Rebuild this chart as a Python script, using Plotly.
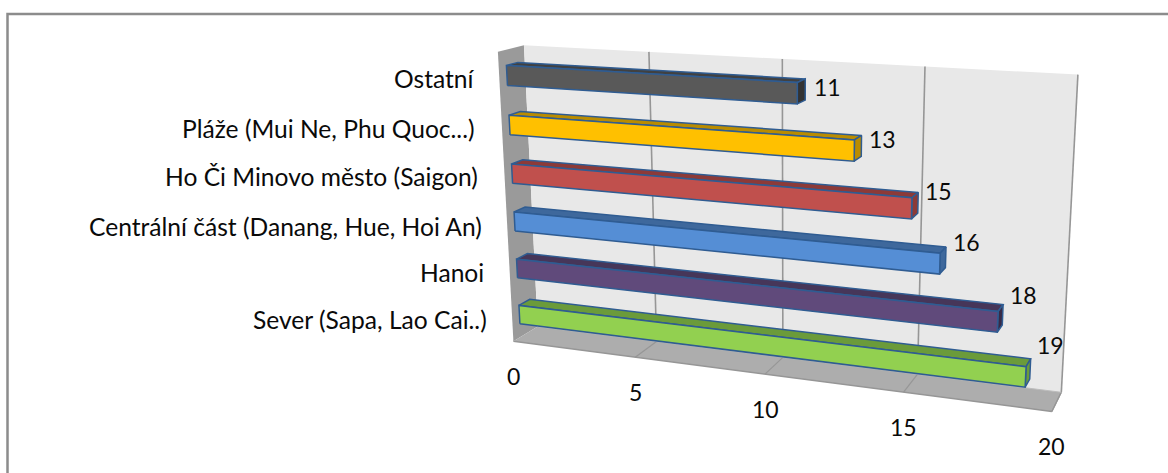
import numpy as np
import plotly.graph_objects as go

categories = ["Sever (Sapa, Lao Cai..)", "Hanoi", "Centrální část (Danang, Hue, Hoi An)",
              "Ho Či Minovo město (Saigon)", "Pláže (Mui Ne, Phu Quoc...)", "Ostatní"]
values = [19, 18, 16, 15, 13, 11]
x_ticks = [0, 5, 10, 15, 20]

front_colors = ["#92D050", "#604A7B", "#558ED5", "#C0504D", "#FFC000", "#595959"]
top_colors = ["#6B9B3A", "#463659", "#3E689C", "#8C3A38", "#BA8C00", "#414141"]
side_colors = ["#6B9B3A", "#372A47", "#3E689C", "#8C3A38", "#BA8C00", "#333333"]
EDGE = "#2F5C92"
FONT = "Lato"
NAME_SIZE = 24.6
NUMBER_SIZE = 23

# Perspective view of the chart box: (value, depth, band) -> canvas position.
VIEW = np.array([
    [20.452457, 40.6706131, -6.9639364, 513.4118863],
    [0.9750744, -4.8291598, -48.7064342, 341.3230918],
    [-0.006152, 0.030512, -0.0087866, 1.0],
])
X_MAX = x_ticks[-1]
BANDS = len(categories)
DEPTH = (0.29, 0.73)
BAR = (0.29, 0.69)


def view(x, y, z):
    h = VIEW @ np.array([x, y, z, 1.0])
    return h[0] / h[2], h[1] / h[2]


fig = go.Figure()


def face(corners, fill, line=None, width=0):
    pts = [view(*c) for c in corners]
    xs = [p[0] for p in pts] + [pts[0][0]]
    ys = [p[1] for p in pts] + [pts[0][1]]
    fig.add_trace(go.Scatter(
        x=xs, y=ys, mode="lines" if line else "none", fill="toself", fillcolor=fill,
        line=dict(color=line or fill, width=width), hoverinfo="skip", showlegend=False,
    ))


def segment(a, b, color, width):
    pa, pb = view(*a), view(*b)
    fig.add_trace(go.Scatter(
        x=[pa[0], pb[0]], y=[pa[1], pb[1]], mode="lines",
        line=dict(color=color, width=width), hoverinfo="skip", showlegend=False,
    ))


# Walls and floor
face([(0, 0, 0), (0, 1, 0), (0, 1, BANDS), (0, 0, BANDS)], "#9A9A9A")
face([(0, 1, 0), (X_MAX, 1, 0), (X_MAX, 1, BANDS), (0, 1, BANDS)], "#E8E8E8")
face([(0, 0, 0), (X_MAX, 0, 0), (X_MAX, 1, 0), (0, 1, 0)], "#ADADAD")

# Grid on the back wall and the floor
for t in x_ticks[1:]:
    segment((t, 1, 0), (t, 1, BANDS), "#969696", 1.6)
    segment((t, 0, 0), (t, 1, 0), "#969696", 1.2)
segment((0, 0, 0), (X_MAX, 0, 0), "#969696", 1.6)
segment((X_MAX, 0, 0), (X_MAX, 1, 0), "#969696", 1.2)
segment((0, 1, 0), (X_MAX, 1, 0), "#BDBDBD", 1)

# Bars, upper bands first
y0, y1 = DEPTH
for i in reversed(range(BANDS)):
    v = values[i]
    z0, z1 = i + BAR[0], i + BAR[1]
    face([(0, y0, z1), (v, y0, z1), (v, y1, z1), (0, y1, z1)], top_colors[i], EDGE, 1.5)
    face([(v, y0, z0), (v, y1, z0), (v, y1, z1), (v, y0, z1)], side_colors[i], EDGE, 1.5)
    face([(0, y0, z0), (v, y0, z0), (v, y0, z1), (0, y0, z1)], front_colors[i], EDGE, 1.5)

annotations = []


def label(text, x, y, anchor, size):
    annotations.append(dict(
        text=text, x=x, y=y, xref="x", yref="y", xanchor=anchor, yanchor="middle",
        showarrow=False, font=dict(family=FONT, size=size, color="#0A0A0A"),
    ))


# Category labels beside the left wall
for name, right, mid in zip(categories, [489, 486, 484, 480, 477, 477], [319, 272, 226, 176, 128, 78]):
    label(name, right, mid, "right", NAME_SIZE)

# Value labels sit on the back wall, just past each bar end
for i, v in enumerate(values):
    px, py = view(v, 1, 0.87 + 0.926 * i)
    label(str(v), px + 17, py, "center", NUMBER_SIZE)

# Axis numbers under the front edge of the floor
for t in x_ticks:
    px, py = view(t, 0, 0)
    label(str(t), px, py + 35, "center", NUMBER_SIZE)

fig.update_layout(
    width=1168, height=473, margin=dict(l=0, r=0, t=0, b=0),
    paper_bgcolor="white", plot_bgcolor="white", showlegend=False,
    xaxis=dict(range=[0, 1168], visible=False, fixedrange=True),
    yaxis=dict(range=[473, 0], visible=False, fixedrange=True),
    annotations=annotations,
    shapes=[dict(type="rect", xref="x", yref="y", x0=7.5, x1=1200, y0=14, y1=500,
                 line=dict(color="#8C8C8C", width=2.5), layer="below")],
)
fig.write_html("out.html")
